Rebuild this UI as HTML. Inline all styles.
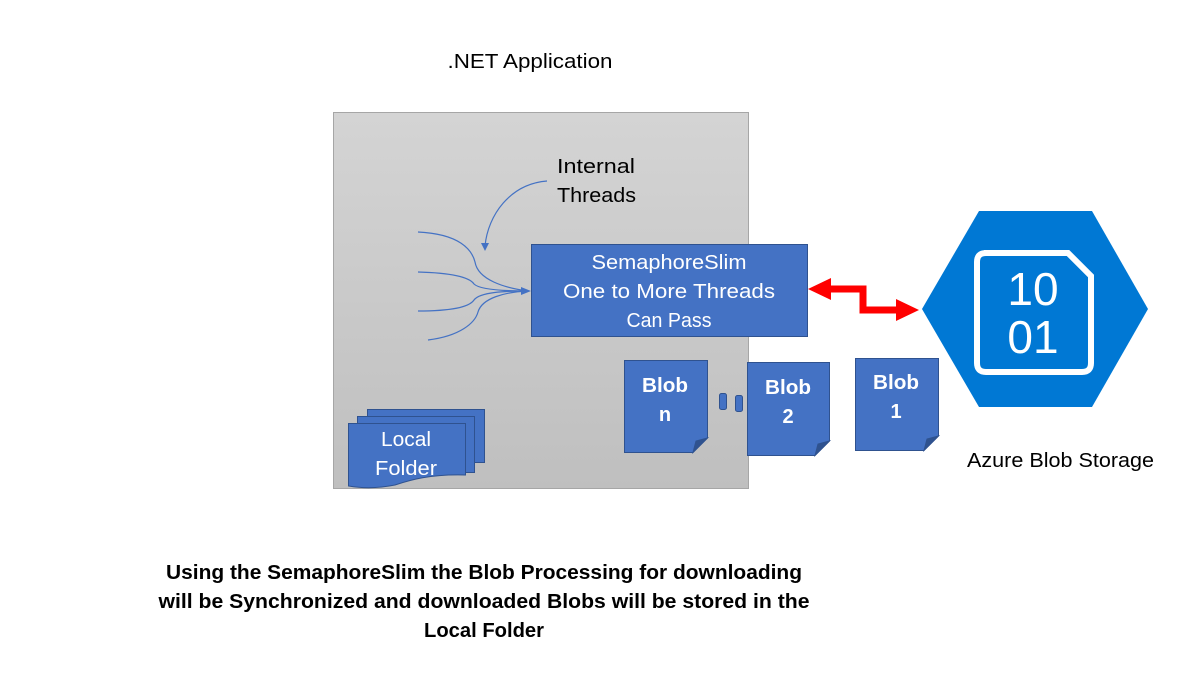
<!DOCTYPE html>
<html><head><meta charset="utf-8"><style>
html,body{margin:0;padding:0;background:#fff;}
svg{display:block;font-family:"Liberation Sans",sans-serif;}
</style></head><body>
<svg width="1190" height="673" viewBox="0 0 1190 673" xmlns="http://www.w3.org/2000/svg">
<defs>
<linearGradient id="g" x1="0" y1="0" x2="0" y2="1"><stop offset="0" stop-color="#d4d4d4"/><stop offset="1" stop-color="#bfbfbf"/></linearGradient>
</defs>
<text x="530" y="68" font-size="20" text-anchor="middle" textLength="165" lengthAdjust="spacingAndGlyphs">.NET Application</text>
<rect x="333.5" y="112.5" width="415" height="376" fill="url(#g)" stroke="#a6a6a6"/>
<text x="557" y="173" font-size="20" textLength="78" lengthAdjust="spacingAndGlyphs">Internal</text>
<text x="557" y="202" font-size="20" textLength="79" lengthAdjust="spacingAndGlyphs">Threads</text>
<g fill="none" stroke="#4472c4" stroke-width="1.2">
<path d="M547,181 C510,184 488,215 485,246"/>
<path d="M418,232 C460,234 472,250 475,262 C478,280 505,288 528,291"/>
<path d="M418,272 C455,273 470,278 474,284 C480,290 505,291 528,291"/>
<path d="M418,311 C455,311 470,306 474,300 C480,292 505,291 528,291"/>
<path d="M428,340 C460,336 475,323 478,312 C482,298 505,292 528,291"/>
</g>
<polygon points="481,243 489,243 485,251" fill="#4472c4"/>
<polygon points="521,287 531,291 521,295" fill="#4472c4"/>
<rect x="531.5" y="244.5" width="276" height="92" fill="#4472c4" stroke="#2f528f"/>
<g fill="#fff" font-size="20" text-anchor="middle">
<text x="669" y="269" textLength="155" lengthAdjust="spacingAndGlyphs">SemaphoreSlim</text>
<text x="669" y="298" textLength="212" lengthAdjust="spacingAndGlyphs">One to More Threads</text>
<text x="669" y="327" textLength="85" lengthAdjust="spacingAndGlyphs">Can Pass</text>
</g>
<!-- red arrow -->
<polyline points="828,289 863,289 863,310 898,310" fill="none" stroke="#ff0000" stroke-width="7"/>
<polygon points="808,289 831,278 831,300" fill="#ff0000"/>
<polygon points="919,310 896,299 896,321" fill="#ff0000"/>
<!-- hexagon -->
<polygon points="922,309 979,211 1092,211 1148,309 1092,407 979,407" fill="#0078d4"/>
<path d="M984,253 L1068,253 L1091,276 L1091,363 Q1091,372 1082,372 L986,372 Q977,372 977,363 L977,262 Q977,253 986,253 Z" fill="none" stroke="#fff" stroke-width="6"/>
<g fill="#fff" font-size="46" text-anchor="middle">
<text x="1033" y="305">10</text>
<text x="1033" y="353">01</text>
</g>
<text x="967" y="467" font-size="20" textLength="187" lengthAdjust="spacingAndGlyphs">Azure Blob Storage</text>
<!-- blobs -->
<g stroke="#2f528f" stroke-width="1" fill="#4472c4">
<path d="M624.5,360.5 H707.5 V438 L693,452.5 H624.5 Z"/>
<path d="M747.5,362.5 H829.5 V441 L815,455.5 H747.5 Z"/>
<path d="M855.5,358.5 H938.5 V436 L924,450.5 H855.5 Z"/>
<path d="M693,452.5 L696,441 L707.5,438 Z" fill="#2f528f"/>
<path d="M815,455.5 L818,444 L829.5,441 Z" fill="#2f528f"/>
<path d="M924,450.5 L927,439 L938.5,436 Z" fill="#2f528f"/>
<rect x="719.5" y="393.5" width="7" height="16" rx="2"/>
<rect x="735.5" y="395.5" width="7" height="16" rx="2"/>
</g>
<g fill="#fff" font-size="20" font-weight="bold" text-anchor="middle">
<text x="665" y="392" textLength="46" lengthAdjust="spacingAndGlyphs">Blob</text>
<text x="665" y="421">n</text>
<text x="788" y="394" textLength="46" lengthAdjust="spacingAndGlyphs">Blob</text>
<text x="788" y="423">2</text>
<text x="896" y="389" textLength="46" lengthAdjust="spacingAndGlyphs">Blob</text>
<text x="896" y="418">1</text>
</g>
<!-- local folder -->
<g fill="#4472c4" stroke="#2f528f">
<rect x="367.5" y="409.5" width="117" height="53"/>
<rect x="357.5" y="416.5" width="117" height="56"/>
<path d="M348.5,423.5 H465.5 V475 C430,474 410,480 395,485 C375,489 360,488 348.5,486 Z"/>
</g>
<g fill="#fff" font-size="20" text-anchor="middle">
<text x="406" y="446" textLength="50" lengthAdjust="spacingAndGlyphs">Local</text>
<text x="406" y="475" textLength="62" lengthAdjust="spacingAndGlyphs">Folder</text>
</g>
<!-- bottom text -->
<g font-size="20" font-weight="bold" text-anchor="middle" fill="#000">
<text x="484" y="579" textLength="636" lengthAdjust="spacingAndGlyphs">Using the SemaphoreSlim the Blob Processing for downloading</text>
<text x="484" y="608" textLength="651" lengthAdjust="spacingAndGlyphs">will be Synchronized and downloaded Blobs will be stored in the</text>
<text x="484" y="637" textLength="120" lengthAdjust="spacingAndGlyphs">Local Folder</text>
</g>
</svg>
</body></html>
